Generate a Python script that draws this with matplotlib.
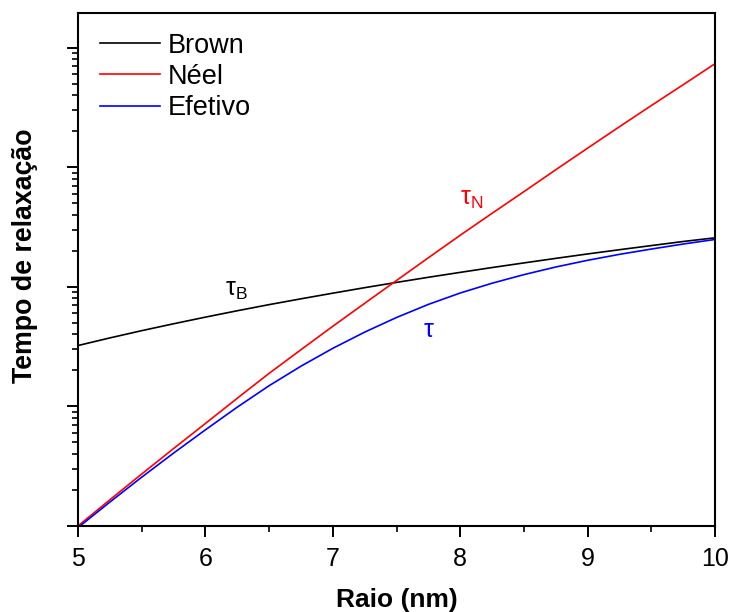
import matplotlib
matplotlib.use("Agg")
import matplotlib.pyplot as plt
from matplotlib.ticker import LogLocator, NullFormatter, MultipleLocator

plt.rcParams['font.family'] = ['Liberation Sans', 'DejaVu Sans']
plt.rcParams['mathtext.fontset'] = 'custom'
plt.rcParams['mathtext.rm'] = 'Liberation Sans'

raio = [5.0, 5.25, 5.5, 5.75, 6.0, 6.25, 6.5, 6.75, 7.0, 7.25, 7.5,
        7.75, 8.0, 8.25, 8.5, 8.75, 9.0, 9.25, 9.5, 9.75, 10.0]
brown = [32.3, 37.4, 43.0, 49.1, 55.8, 63.1, 71.0, 79.4, 88.5, 98.4, 108.9,
         120.2, 132.1, 145.0, 158.5, 173.0, 188.4, 204.4, 221.3, 239.4, 257.0]
neel = [1.0, 1.656, 2.72, 4.44, 7.2, 11.7, 18.9, 29.8, 46.8, 72.8, 113.0,
        175.0, 270.0, 412.0, 625.0, 953.0, 1445.0, 2183.0, 3281.0, 4898.0, 7345.0]
efetivo = [0.97, 1.585, 2.56, 4.07, 6.37, 9.86, 14.9, 21.7, 30.6, 41.8, 55.4,
           71.3, 88.8, 107.2, 126.5, 146.5, 166.7, 186.9, 207.0, 228.0, 249.0]
series_labels = ["Brown", "Néel", "Efetivo"]
x_ticks = [5, 6, 7, 8, 9, 10]

fig = plt.figure(figsize=(7.31, 6.12), dpi=100)
ax = fig.add_axes([78/731, 86/612, (715-78)/731, (526-13)/612])

ax.plot(raio, brown, color='black', lw=1.2, label=series_labels[0])
ax.plot(raio, neel, color='#ff0000', lw=1.2, label=series_labels[1])
ax.plot(raio, efetivo, color='#0000ff', lw=1.2, label=series_labels[2])

ax.set_yscale('log')
ax.set_xlim(5, 10)
ax.set_ylim(1, 10**4.29)
ax.set_xticks(x_ticks)
ax.xaxis.set_minor_locator(MultipleLocator(0.5))
ax.yaxis.set_major_locator(LogLocator(base=10, numticks=10))
ax.yaxis.set_minor_locator(LogLocator(base=10, subs=range(2, 10), numticks=20))
ax.yaxis.set_major_formatter(NullFormatter())
ax.yaxis.set_minor_formatter(NullFormatter())

ax.tick_params(which='major', direction='out', length=8, width=1.4, labelsize=18, pad=7)
ax.tick_params(which='minor', direction='out', length=4.5, width=1.2)
for s in ax.spines.values():
    s.set_linewidth(1.5)
    s.set_color('black')

ax.set_xlabel('Raio (nm)', fontsize=19, fontweight='bold', labelpad=12)
ax.set_ylabel('Tempo de relaxação', fontsize=19.3, fontweight='bold')
ax.yaxis.set_label_coords(-0.063, 0.526)

leg = ax.legend(loc='upper left', frameon=False, fontsize=19.5, handlelength=2.2,
                handletextpad=0.3, labelspacing=0.2, borderaxespad=0.0,
                bbox_to_anchor=(0.018, 0.983))

ax.text(6.24, 94, r'$\mathregular{\tau_B}$', color='black', fontsize=18, ha='center', va='center')
ax.text(8.09, 540, r'$\mathregular{\tau_N}$', color='#ff0000', fontsize=18, ha='center', va='center')
ax.text(7.75, 43.7, r'$\mathregular{\tau}$', color='#0000ff', fontsize=18, ha='center', va='center')

fig.savefig('out.png', dpi=100)
